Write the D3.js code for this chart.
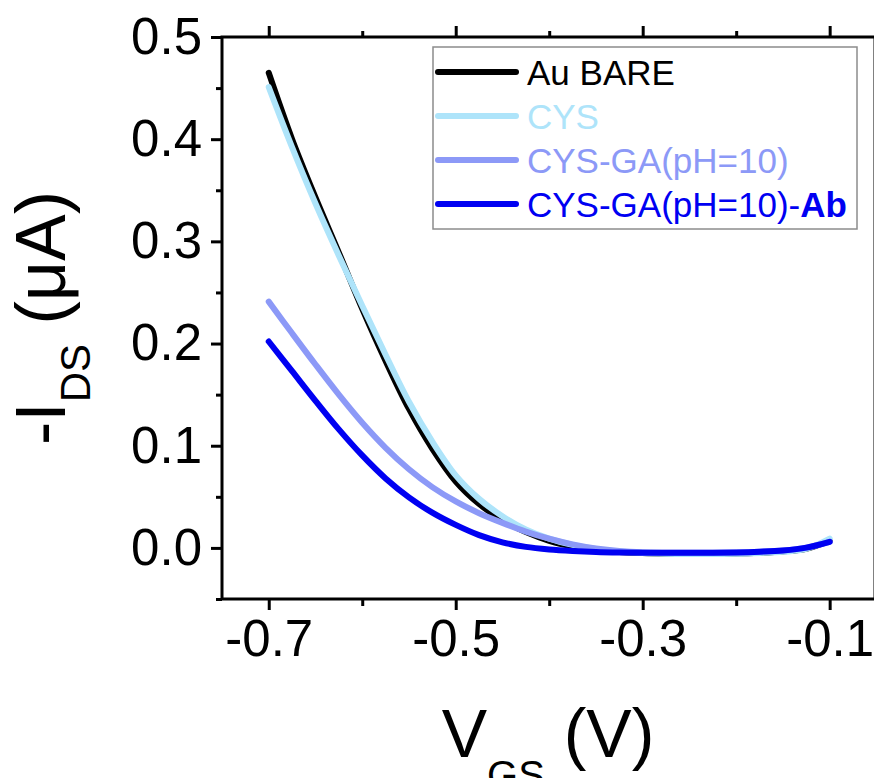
<!DOCTYPE html>
<html>
<head>
<meta charset="utf-8">
<script src="https://cdn.jsdelivr.net/npm/d3@7"></script>
<style>
  html, body { margin: 0; padding: 0; background: #fff; }
  svg { display: block; font-family: "Liberation Sans", Arial, sans-serif; }
</style>
</head>
<body>
<svg id="chart" width="874" height="778"></svg>
<script>
// Gate voltage sweep (V)
const vgs = [-0.7, -0.675, -0.65, -0.625, -0.6, -0.575, -0.55, -0.525, -0.5, -0.475,
             -0.45, -0.425, -0.4, -0.375, -0.35, -0.325, -0.3, -0.275, -0.25, -0.225,
             -0.2, -0.175, -0.15, -0.125, -0.1];

// -I_DS (µA) for each electrode modification
const auBare = [0.465, 0.400, 0.343, 0.289, 0.234, 0.183, 0.136, 0.097, 0.065, 0.043,
                0.027, 0.0155, 0.007, 0.0015, -0.002, -0.004, -0.005, -0.0055, -0.0057, -0.0057,
                -0.0055, -0.0048, -0.0035, -0.0008, 0.007];
const cys    = [0.451, 0.392, 0.337, 0.286, 0.237, 0.189, 0.143, 0.104, 0.071, 0.048,
                0.031, 0.018, 0.009, 0.003, -0.001, -0.0035, -0.005, -0.0057, -0.006, -0.006,
                -0.0058, -0.005, -0.0038, -0.001, 0.009];
const cysGa  = [0.241, 0.210, 0.1795, 0.150, 0.1225, 0.098, 0.077, 0.0595, 0.0455, 0.034,
                0.0245, 0.016, 0.009, 0.0035, -0.0005, -0.003, -0.0043, -0.0047, -0.0048, -0.0047,
                -0.0044, -0.0037, -0.0025, 0.0003, 0.006];
const cysGaAb = [0.202, 0.173, 0.144, 0.116, 0.0905, 0.068, 0.0495, 0.0345, 0.0225, 0.0125,
                 0.0055, 0.001, -0.0015, -0.003, -0.004, -0.0045, -0.0047, -0.0048, -0.0048, -0.0047,
                 -0.0044, -0.0037, -0.0025, 0.0003, 0.006];

const seriesNames  = ["Au BARE", "CYS", "CYS-GA(pH=10)", "CYS-GA(pH=10)-"];
const seriesColors = ["#000000", "#aee4fa", "#8c99f7", "#0000f2"];
const seriesValues = [auBare, cys, cysGa, cysGaAb];

// Axis ticks
const xMajorTicks = [-0.7, -0.5, -0.3, -0.1];
const xMinorTicks = [-0.6, -0.4, -0.2];
const yMajorTicks = [0.0, 0.1, 0.2, 0.3, 0.4, 0.5];
const yMinorTicks = [-0.05, 0.05, 0.15, 0.25, 0.35, 0.45];

const svg = d3.select("#chart");
const plot = { left: 222, right: 875, top: 37, bottom: 599 };

const x = d3.scaleLinear().domain([-0.75, -0.0515]).range([plot.left, plot.right]);
const y = d3.scaleLinear().domain([-0.05, 0.5]).range([plot.bottom, plot.top]);

const fmt = d => d.toFixed(1);

function styleAxis(g) {
  g.select(".domain").remove();
  g.selectAll(".tick line").attr("stroke", "#000").attr("stroke-width", 3);
  g.selectAll(".tick text").attr("fill", "#000")
    .style("font-family", "'Liberation Sans', Arial, sans-serif")
    .style("font-size", "51px");
}

// Bottom axis (labelled) + minor ticks
svg.append("g").attr("transform", `translate(0,${plot.bottom})`)
  .call(d3.axisBottom(x).tickValues(xMajorTicks).tickFormat(fmt).tickSize(11).tickPadding(10))
  .call(styleAxis);
svg.append("g").attr("transform", `translate(0,${plot.bottom})`)
  .call(d3.axisBottom(x).tickValues(xMinorTicks).tickFormat("").tickSize(7))
  .call(styleAxis);

// Top mirror ticks
svg.append("g").attr("transform", `translate(0,${plot.top})`)
  .call(d3.axisTop(x).tickValues(xMajorTicks).tickFormat("").tickSize(11))
  .call(styleAxis);
svg.append("g").attr("transform", `translate(0,${plot.top})`)
  .call(d3.axisTop(x).tickValues(xMinorTicks).tickFormat("").tickSize(6))
  .call(styleAxis);

// Left axis (labelled) + minor ticks
svg.append("g").attr("transform", `translate(${plot.left},0)`)
  .call(d3.axisLeft(y).tickValues(yMajorTicks).tickFormat(fmt).tickSize(11).tickPadding(9))
  .call(styleAxis);
svg.append("g").attr("transform", `translate(${plot.left},0)`)
  .call(d3.axisLeft(y).tickValues(yMinorTicks).tickFormat("").tickSize(6))
  .call(styleAxis);

// Right mirror ticks
svg.append("g").attr("transform", `translate(${plot.right},0)`)
  .call(d3.axisRight(y).tickValues(yMajorTicks).tickFormat("").tickSize(11))
  .call(styleAxis);

// Frame
svg.append("rect")
  .attr("x", plot.left).attr("y", plot.top)
  .attr("width", plot.right - plot.left).attr("height", plot.bottom - plot.top)
  .attr("fill", "none").attr("stroke", "#000").attr("stroke-width", 3);

// Transfer curves
const line = d3.line()
  .x((d, i) => x(vgs[i]))
  .y(d => y(d))
  .curve(d3.curveCatmullRom.alpha(0.5));

svg.append("g").selectAll("path")
  .data(seriesValues)
  .join("path")
  .attr("d", d => line(d))
  .attr("fill", "none")
  .attr("stroke", (d, i) => seriesColors[i])
  .attr("stroke-width", 6)
  .attr("stroke-linecap", "round")
  .attr("stroke-linejoin", "round");

// Legend
const legend = svg.append("g");
legend.append("rect")
  .attr("x", 433).attr("y", 47).attr("width", 424).attr("height", 182)
  .attr("fill", "#fff").attr("stroke", "#8c8c8c").attr("stroke-width", 1.5);

const rows = legend.selectAll("g.row")
  .data(seriesNames)
  .join("g")
  .attr("class", "row")
  .attr("transform", (d, i) => `translate(0,${72 + i * 44})`);

rows.append("line")
  .attr("x1", 438).attr("x2", 516)
  .attr("stroke", (d, i) => seriesColors[i])
  .attr("stroke-width", 6)
  .attr("stroke-linecap", "round");

const labels = rows.append("text")
  .attr("x", 527).attr("dy", "0.36em")
  .attr("fill", (d, i) => seriesColors[i])
  .style("font-size", "35px")
  .text(d => d);
labels.filter((d, i) => i === 3)
  .append("tspan").attr("font-weight", "bold").text("Ab");

// Axis titles
const xTitle = svg.append("text")
  .attr("transform", "translate(548,757)")
  .attr("text-anchor", "middle")
  .style("font-size", "68px");
xTitle.append("tspan").text("V");
xTitle.append("tspan").attr("dy", 32).style("font-size", "40px").text("GS");
xTitle.append("tspan").attr("dy", -32).text(" (V)");

const yTitle = svg.append("text")
  .attr("transform", "translate(65,318) rotate(-90)")
  .attr("text-anchor", "middle")
  .style("font-size", "70px");
yTitle.append("tspan").text("-I");
yTitle.append("tspan").attr("dy", 25).style("font-size", "42px").text("DS");
yTitle.append("tspan").attr("dy", -25).text(" (\u03BCA)");
</script>
</body>
</html>
